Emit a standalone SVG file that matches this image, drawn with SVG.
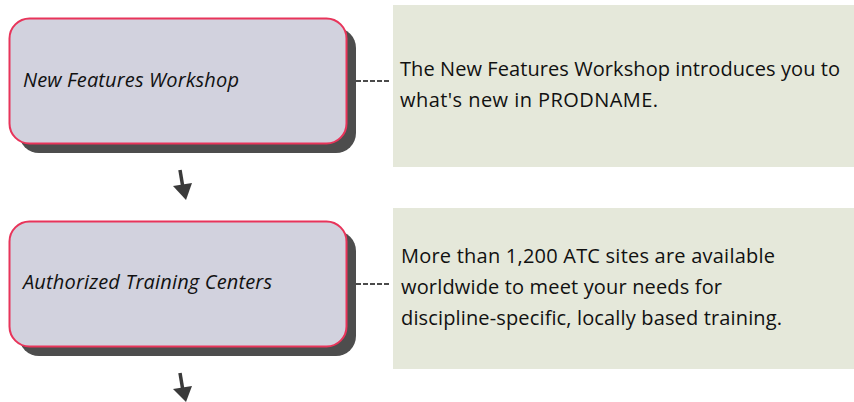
<svg xmlns="http://www.w3.org/2000/svg" width="854" height="402" viewBox="0 0 854 402">
<style>
.shadow{fill:#4d4d4d}
.box{fill:#d2d2de;stroke:#e8345a;stroke-width:2}
.note{fill:#e5e8da}
.lbl{font-family:"Open Sans","Noto Sans",sans-serif;font-style:italic;font-size:20px;fill:#111}
.txt{font-family:"Open Sans","Noto Sans",sans-serif;font-size:20px;fill:#111}
.dash{stroke:#111;stroke-width:1.5;stroke-dasharray:5 2;fill:none}
.arr{stroke:#3a3a3a;stroke-width:3.5;fill:none}
.head{fill:#3a3a3a}
</style>
<g id="connectors">
<line class="dash" x1="356" y1="81" x2="391" y2="81"/>
<line class="dash" x1="356" y1="284" x2="391" y2="284"/>
<path class="arr" d="M180 170 L183 188"/>
<path class="head" d="M173 186 L192 183 L186 200 Z"/>
<path class="arr" d="M180 373 L183 391"/>
<path class="head" d="M173 389 L192 386 L186 402 Z"/>
</g>
<g id="node1">
<rect class="shadow" x="19" y="28" width="337" height="125" rx="20"/>
<rect class="box" x="9.5" y="18.5" width="337" height="125" rx="20"/>
<text class="lbl" x="23" y="87" textLength="216">New Features Workshop</text>
</g>
<g id="note1">
<rect class="note" x="393" y="5" width="461" height="162"/>
<text class="txt" x="400" y="76" textLength="440">The New Features Workshop introduces you to</text>
<text class="txt" x="400" y="107" textLength="258">what's new in PRODNAME.</text>
</g>
<g id="node2">
<rect class="shadow" x="19" y="231" width="337" height="125" rx="20"/>
<rect class="box" x="9.5" y="221.5" width="337" height="125" rx="20"/>
<text class="lbl" x="23" y="289" textLength="249">Authorized Training Centers</text>
</g>
<g id="note2">
<rect class="note" x="393" y="208" width="461" height="161"/>
<text class="txt" x="401" y="263" textLength="374">More than 1,200 ATC sites are available</text>
<text class="txt" x="401" y="294" textLength="321">worldwide to meet your needs for</text>
<text class="txt" x="401" y="325" textLength="381">discipline-specific, locally based training.</text>
</g>
</svg>
